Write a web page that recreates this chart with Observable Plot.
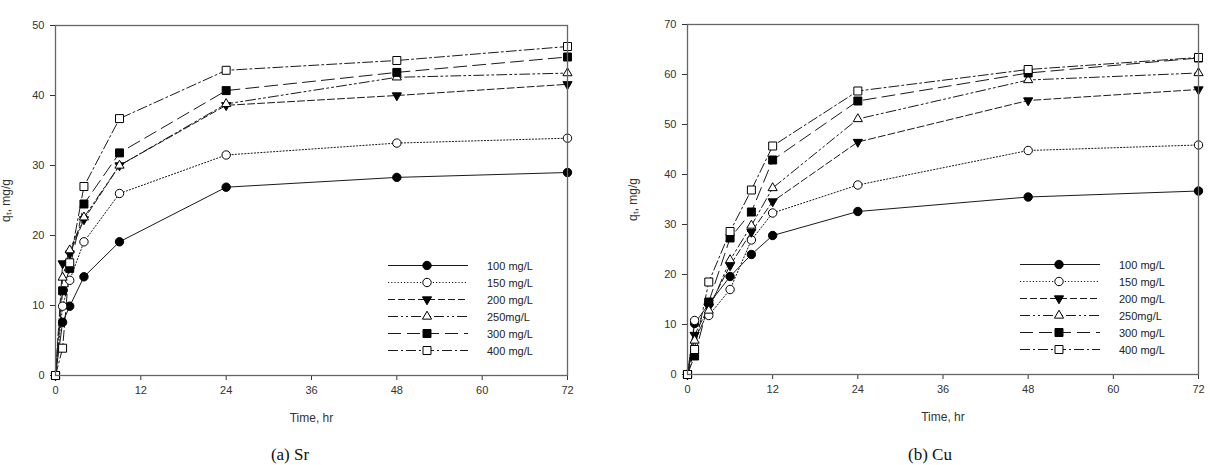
<!DOCTYPE html>
<html>
<head>
<meta charset="utf-8">
<script src="https://cdn.jsdelivr.net/npm/d3@7"></script>
<script src="https://cdn.jsdelivr.net/npm/@observablehq/plot@0.6"></script>
<style>
  body { margin: 0; background: #fff; }
  #page { position: relative; width: 1210px; height: 465px; overflow: hidden; background: #fff;
          font-family: "Liberation Sans", Arial, sans-serif; }
  .panel { position: absolute; top: 0; }
  .caption { position: absolute; font-family: "Liberation Serif", "Times New Roman", serif;
             font-size: 17px; line-height: 18px; color: #111; transform: translateX(-50%); white-space: nowrap; }
  .legend { position: absolute; font-size: 11px; color: #222; }
  .legend .row { display: flex; align-items: center; height: 17px; }
  .legend svg { display: block; flex: none; }
</style>
</head>
<body>
<div id="page"></div>
<script>
// Series labels (initial concentration)
const concentrations = ["100 mg/L", "150 mg/L", "200 mg/L", "250mg/L", "300 mg/L", "400 mg/L"];

// Axis ticks
const timeTicks = [0, 12, 24, 36, 48, 60, 72];
const srTicks = [0, 10, 20, 30, 40, 50];
const cuTicks = [0, 10, 20, 30, 40, 50, 60, 70];

// (a) Sr — sampling times (hr) and uptake q_t (mg/g)
const srTime = [0, 1, 2, 4, 9, 24, 48, 72];
const sr100 = [0, 7.6, 9.9, 14.1, 19.1, 26.9, 28.3, 29.0];
const sr150 = [0, 9.9, 13.6, 19.1, 26.0, 31.5, 33.2, 33.9];
const sr200 = [0, 16.0, 17.4, 22.3, 30.0, 38.6, 40.0, 41.6];
const sr250 = [0, 14.0, 17.9, 22.6, 30.0, 38.8, 42.6, 43.2];
const sr300 = [0, 12.1, 15.3, 24.5, 31.8, 40.7, 43.3, 45.5];
const sr400 = [0, 3.9, 16.1, 27.0, 36.7, 43.6, 45.0, 47.0];

// (b) Cu — sampling times (hr) and uptake q_t (mg/g)
const cuTime = [0, 1, 3, 6, 9, 12, 24, 48, 72];
const cu100 = [0, 10.2, 14.1, 19.6, 24.0, 27.8, 32.6, 35.5, 36.7];
const cu150 = [0, 10.8, 11.8, 17.0, 26.9, 32.3, 37.9, 44.8, 45.9];
const cu200 = [0, 7.9, 13.5, 21.8, 28.5, 34.6, 46.5, 54.8, 57.0];
const cu250 = [0, 6.8, 12.8, 22.9, 29.8, 37.3, 51.1, 58.9, 60.3];
const cu300 = [0, 3.7, 14.5, 27.3, 32.5, 42.9, 54.7, 60.3, 63.3];
const cu400 = [0, 5.0, 18.5, 28.6, 36.9, 45.7, 56.7, 61.0, 63.4];

// Line and marker style for each concentration
const seriesStyles = [
  {dash: null,             symbol: "circle",   fill: "black", r: 4.2, rotate: 0},
  {dash: "1.2,2",          symbol: "circle",   fill: "white", r: 4.2, rotate: 0},
  {dash: "7,3",            symbol: "triangle", fill: "black", r: 3.4, rotate: 180},
  {dash: "10,3,2,3,2,3",   symbol: "triangle", fill: "white", r: 3.4, rotate: 0},
  {dash: "13,6",           symbol: "square",   fill: "black", r: 4.5, rotate: 0},
  {dash: "10,3,2,3",       symbol: "square",   fill: "white", r: 4.5, rotate: 0}
];

function toRows(time, seriesList) {
  return seriesList.map((values, i) => values.map((q, j) => ({series: i, t: time[j], q})));
}

const panels = [
  {left: 0,   width: 620, marginLeft: 55, marginRight: 53, marginTop: 25, marginBottom: 55,
   yMax: 50, yTicks: srTicks, rows: toRows(srTime, [sr100, sr150, sr200, sr250, sr300, sr400]),
   yLabelOffset: 54, caption: "(a) Sr", captionX: 290, legendX: 388, legendY: 257},
  {left: 615, width: 595, marginLeft: 72, marginRight: 12, marginTop: 24, marginBottom: 56,
   yMax: 70, yTicks: cuTicks, rows: toRows(cuTime, [cu100, cu150, cu200, cu250, cu300, cu400]),
   yLabelOffset: 59, caption: "(b) Cu", captionX: 930, legendX: 1020, legendY: 256}
];

const page = document.getElementById("page");

for (const p of panels) {
  const marks = [];
  p.rows.forEach((data, i) => {
    const s = seriesStyles[i];
    marks.push(Plot.line(data, {x: "t", y: "q", stroke: "#1a1a1a", strokeWidth: 1,
      strokeDasharray: s.dash ?? undefined}));
  });
  p.rows.forEach((data, i) => {
    const s = seriesStyles[i];
    marks.push(Plot.dot(data, {x: "t", y: "q", symbol: s.symbol, r: s.r, rotate: s.rotate,
      fill: s.fill, stroke: "black", strokeWidth: 1}));
  });

  const chart = Plot.plot({
    width: p.width,
    height: 430,
    marginLeft: p.marginLeft,
    marginRight: p.marginRight,
    marginTop: p.marginTop,
    marginBottom: p.marginBottom,
    style: {fontFamily: "'Liberation Sans', Arial, sans-serif", fontSize: "11px", color: "#333", background: "transparent"},
    x: {domain: [0, 72]},
    y: {domain: [0, p.yMax]},
    marks: [
      Plot.axisX(timeTicks, {tickSize: 5, tickPadding: 6, label: "Time, hr", labelAnchor: "center",
        labelOffset: 46, labelArrow: "none"}),
      Plot.axisY(p.yTicks, {tickSize: 5, tickPadding: 6, label: "qₜ, mg/g", labelAnchor: "center",
        labelOffset: p.yLabelOffset, labelArrow: "none"}),
      ...marks,
      Plot.frame({stroke: "#666", strokeWidth: 1.3})
    ]
  });
  const labels = d3.select(chart).selectAll('g[aria-label="x-axis label"], g[aria-label="y-axis label"]')
    .attr("font-size", 12).attr("fill", "#333");
  labels.selectAll("text").each(function() {
    this.textContent = this.textContent.replace(/\s*[→↑←↓]\s*/g, "").trim();
  });

  const holder = document.createElement("div");
  holder.className = "panel";
  holder.style.left = p.left + "px";
  holder.appendChild(chart);
  page.appendChild(holder);

  // Legend
  const legend = d3.select(page).append("div").attr("class", "legend")
    .style("left", p.legendX + "px").style("top", p.legendY + "px");
  concentrations.forEach((name, i) => {
    const s = seriesStyles[i];
    const row = legend.append("div").attr("class", "row");
    const svg = row.append("svg").attr("width", 99).attr("height", 17);
    svg.append("line").attr("x1", 0).attr("x2", 80).attr("y1", 8.5).attr("y2", 8.5)
      .attr("stroke", "#1a1a1a").attr("stroke-width", 1)
      .attr("stroke-dasharray", s.dash);
    const type = s.symbol === "circle" ? d3.symbolCircle : s.symbol === "square" ? d3.symbolSquare : d3.symbolTriangle;
    svg.append("path").attr("d", d3.symbol(type, Math.PI * s.r * s.r)())
      .attr("transform", `translate(39,8.5) rotate(${s.rotate})`)
      .attr("fill", s.fill).attr("stroke", "black");
    row.append("span").text(name);
  });

  d3.select(page).append("div").attr("class", "caption")
    .style("left", p.captionX + "px").style("top", "446px").text(p.caption);
}
</script>
</body>
</html>
